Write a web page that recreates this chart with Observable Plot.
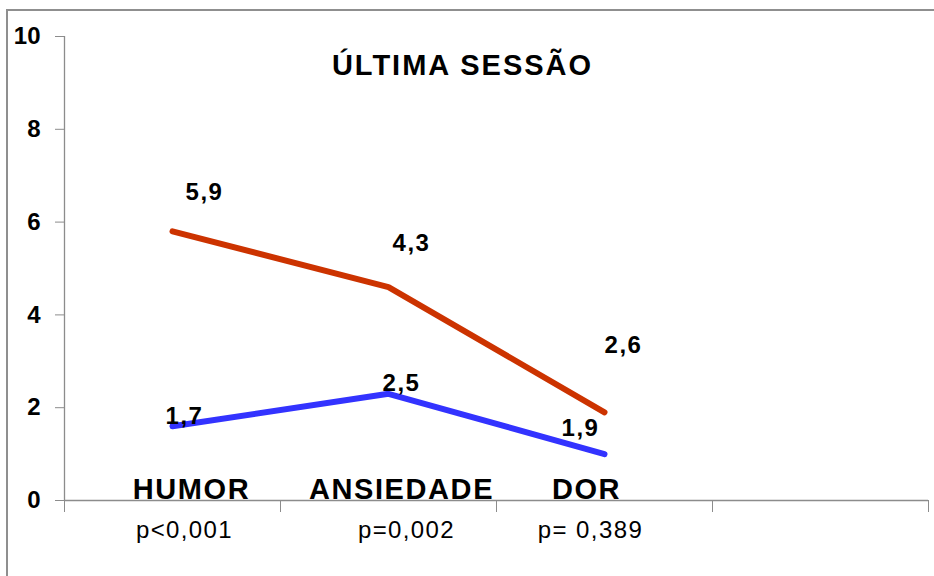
<!DOCTYPE html>
<html>
<head>
<meta charset="utf-8">
<script src="https://cdn.jsdelivr.net/npm/d3@7"></script>
<script src="https://cdn.jsdelivr.net/npm/@observablehq/plot@0.6"></script>
<style>
  body { margin: 0; background: #fff; }
  #wrap { position: relative; width: 934px; height: 576px; overflow: hidden; background: #fff; }
  #border { position: absolute; left: 6px; top: 9px; width: 960px; height: 600px;
            border-top: 2px solid #8f8f8f; border-left: 2px solid #8f8f8f; }
  #chart { position: absolute; left: 0; top: 0; }
</style>
</head>
<body>
<div id="wrap"><div id="border"></div><div id="chart"></div></div>
<script>
// ---- data ----
const title = "ÚLTIMA SESSÃO";
const categories = ["HUMOR", "ANSIEDADE", "DOR"];
const pValues = ["p<0,001", "p=0,002", "p= 0,389"];
const redValues = [5.8, 4.6, 1.9];
const blueValues = [1.6, 2.3, 1.0];
const redLabels = ["5,9", "4,3", "2,6"];
const blueLabels = ["1,7", "2,5", "1,9"];
const yTicks = [0, 2, 4, 6, 8, 10];
const nBands = 4; // three categories plus one empty band

// ---- layout (label offsets in px, as placed in the original) ----
const redLabelOffsets = [[32, -39], [23, -44], [19, -67]];
const blueLabelOffsets = [[12, -10], [13, -10], [-24, -26]];
const categoryDx = [19, 13, -18];
const pDx = [12, 18, -14];

const RED = "#cc3300";
const BLUE = "#3333ff";
const GRAY = "#8c8c8c";
const FONT = "'Liberation Sans', Arial, sans-serif";

const redRows = categories.map((c, i) => ({i, v: redValues[i], label: redLabels[i]}));
const blueRows = categories.map((c, i) => ({i, v: blueValues[i], label: blueLabels[i]}));
const catRows = categories.map((c, i) => ({i, c, p: pValues[i]}));
const seps = d3.range(nBands + 1).map(i => i - 0.5);

const marks = [
  Plot.ruleX([-0.5], {y1: 0, y2: 10, stroke: GRAY, strokeWidth: 1.3}),
  Plot.ruleY([0], {x1: -0.5, x2: nBands - 0.5, stroke: GRAY, strokeWidth: 1.3}),
  Plot.axisY({ticks: yTicks, tickSize: 9, tickPadding: 15, tickFormat: d => String(d), label: null,
              fontSize: 24, fontWeight: "bold", stroke: GRAY, fill: "black"}),
  Plot.axisX({ticks: seps, tickSize: 12, tickFormat: () => "", label: null, stroke: GRAY}),
  Plot.line(redRows, {x: "i", y: "v", stroke: RED, strokeWidth: 6, strokeLinecap: "round", strokeLinejoin: "round"}),
  Plot.line(blueRows, {x: "i", y: "v", stroke: BLUE, strokeWidth: 6, strokeLinecap: "round", strokeLinejoin: "round"}),
  Plot.text([title], {frameAnchor: "top", lineAnchor: "bottom", dx: -34, dy: 38,
                      text: d => d, fontSize: 29, fontWeight: "bold", fill: "black"})
];

redRows.forEach((r, k) => marks.push(Plot.text([r], {x: "i", y: "v", text: "label",
  dx: redLabelOffsets[k][0], dy: redLabelOffsets[k][1], fontSize: 24, fontWeight: "bold", fill: "black"})));
blueRows.forEach((r, k) => marks.push(Plot.text([r], {x: "i", y: "v", text: "label",
  dx: blueLabelOffsets[k][0], dy: blueLabelOffsets[k][1], fontSize: 24, fontWeight: "bold", fill: "black"})));
catRows.forEach((r, k) => {
  marks.push(Plot.text([r], {x: "i", y: () => 0, text: "c", lineAnchor: "bottom", dy: -2,
    dx: categoryDx[k], fontSize: 29, fontWeight: "bold", fill: "black"}));
  marks.push(Plot.text([r], {x: "i", y: () => 0, text: "p", lineAnchor: "bottom", dy: 37,
    dx: pDx[k], fontSize: 24, fill: "black"}));
});

const chart = Plot.plot({
  width: 934,
  height: 576,
  marginLeft: 64,
  marginRight: 6,
  marginTop: 36,
  marginBottom: 76,
  style: {fontFamily: FONT, color: "black", background: "transparent", overflow: "visible"},
  x: {domain: [-0.5, nBands - 0.5], axis: null},
  y: {domain: [0, 10], axis: null},
  marks
});

// widen glyph spacing slightly to match the original's horizontally stretched lettering
const spacing = new Map([[title, 2]]);
categories.forEach(c => spacing.set(c, 1.6));
pValues.forEach(p => spacing.set(p, 1.4));
redLabels.concat(blueLabels).forEach(l => spacing.set(l, 1.5));
d3.select(chart).selectAll("text").each(function() {
  const t = this.textContent;
  if (spacing.has(t)) this.setAttribute("letter-spacing", spacing.get(t));
});

document.getElementById("chart").appendChild(chart);
</script>
</body>
</html>
